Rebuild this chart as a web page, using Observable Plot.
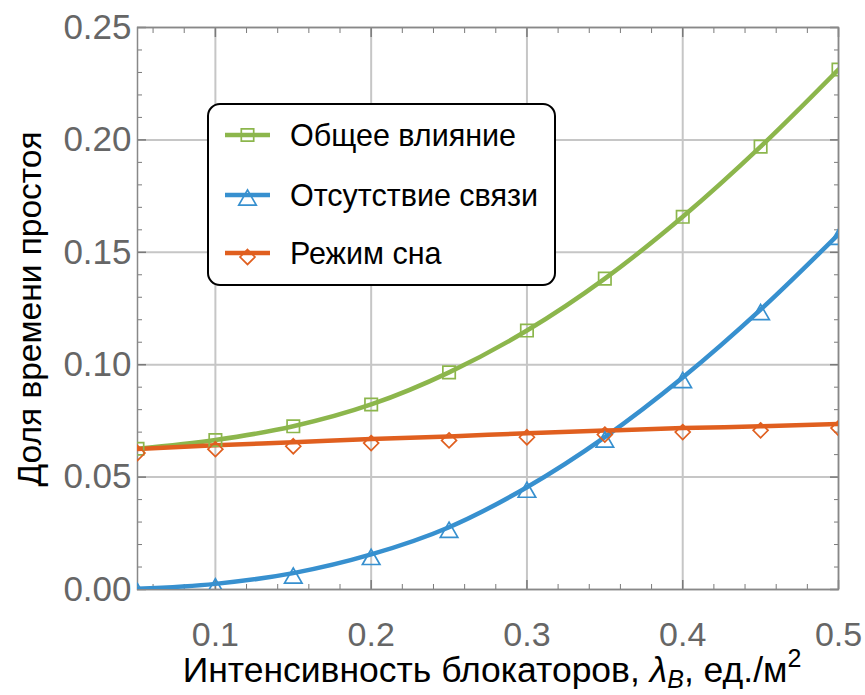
<!DOCTYPE html>
<html><head><meta charset="utf-8">
<script src="https://cdn.jsdelivr.net/npm/d3@7"></script>
<script src="https://cdn.jsdelivr.net/npm/@observablehq/plot@0.6"></script>
<style>body{margin:0;background:#fff}</style>
</head><body><div id="chart"></div>
<script>
// ---- data ----
const lambdaB = [0.05, 0.10, 0.15, 0.20, 0.25, 0.30, 0.35, 0.40, 0.45, 0.50];
const totalImpact = [0.0626, 0.0665, 0.0726, 0.0823, 0.0966, 0.1152, 0.1383, 0.1658, 0.1970, 0.2313];
const noLink = [0.0003, 0.0025, 0.0073, 0.0156, 0.0277, 0.0455, 0.0678, 0.0943, 0.1245, 0.1580];
const sleepMode = [0.0625, 0.0642, 0.0655, 0.0669, 0.0681, 0.0695, 0.0707, 0.0718, 0.0726, 0.0736];
const seriesNames = ["Общее влияние", "Отсутствие связи", "Режим сна"];
const seriesColors = ["#8cb64c", "#3790cf", "#e05f1f"];
const seriesSymbols = ["square", "triangle", "diamond2"];
const xTicks = [0.1, 0.2, 0.3, 0.4, 0.5];
const yTicks = [0.00, 0.05, 0.10, 0.15, 0.20, 0.25];
const xTitle = "Интенсивность блокаторов, ";
const yTitle = "Доля времени простоя";

const seriesValues = [totalImpact, noLink, sleepMode];
const rows = [];
seriesNames.forEach((name, i) => lambdaB.forEach((x, j) => rows.push({x, y: seriesValues[i][j], series: name})));

const xMinor = d3.range(0.06, 0.5001, 0.02).map(v => +v.toFixed(2)).filter(v => !xTicks.some(t => Math.abs(t - v) < 1e-9));
const yMinor = d3.range(0.01, 0.2501, 0.01).map(v => +v.toFixed(2)).filter(v => !yTicks.some(t => Math.abs(t - v) < 1e-9));

const tickColor = "#7a7a7a";
const markerR = [7, 6.5, 6.7];
const markerDy = [0, 5, 4];

const plot = Plot.plot({
  width: 865, height: 695,
  marginLeft: 137, marginRight: 27, marginTop: 27, marginBottom: 106,
  x: {domain: [0.05, 0.5]},
  y: {domain: [0, 0.25]},
  color: {domain: seriesNames, range: seriesColors},
  symbol: {domain: seriesNames, range: seriesSymbols},
  style: {fontFamily: "'Liberation Sans', Arial, sans-serif", background: "white", overflow: "visible"},
  marks: [
    Plot.gridX(xTicks, {stroke: "#c6c6c6", strokeOpacity: 1, strokeWidth: 2}),
    Plot.gridY(yTicks, {stroke: "#c6c6c6", strokeOpacity: 1, strokeWidth: 2}),
    Plot.axisX(xMinor, {anchor: "bottom", tickSize: -5, text: null, label: null, stroke: tickColor}),
    Plot.axisX(xMinor, {anchor: "top", tickSize: -5, text: null, label: null, stroke: tickColor}),
    Plot.axisX(xTicks, {anchor: "bottom", tickSize: -9, text: null, label: null, stroke: tickColor, strokeWidth: 1.5}),
    Plot.axisX(xTicks, {anchor: "top", tickSize: -9, text: null, label: null, stroke: tickColor, strokeWidth: 1.5}),
    Plot.axisY(yMinor, {anchor: "left", tickSize: -5, text: null, label: null, stroke: tickColor}),
    Plot.axisY(yMinor, {anchor: "right", tickSize: -5, text: null, label: null, stroke: tickColor}),
    Plot.axisY(yTicks, {anchor: "left", tickSize: -9, text: null, label: null, stroke: tickColor, strokeWidth: 1.5}),
    Plot.axisY(yTicks, {anchor: "right", tickSize: -9, text: null, label: null, stroke: tickColor, strokeWidth: 1.5}),
    Plot.axisX(xTicks, {anchor: "bottom", tickSize: 0, tickPadding: 32, fontSize: 34, fill: "#666", label: null, tickFormat: d => d.toFixed(1)}),
    Plot.axisY(yTicks, {anchor: "left", tickSize: 0, tickPadding: 6, fontSize: 35, fill: "#666", label: null, tickFormat: d => d.toFixed(2)}),
    Plot.frame({stroke: "#888", strokeWidth: 1.5}),
    Plot.line(rows, {x: "x", y: "y", z: "series", stroke: "series", strokeWidth: 4.5, curve: "monotone-x", clip: true}),
    ...seriesNames.map((name, i) =>
      Plot.dot(rows, {x: "x", y: "y", stroke: "series", symbol: "series", fill: "none", r: markerR[i], strokeWidth: 1.7,
        clip: true, dy: markerDy[i], filter: d => d.series === name}))
  ]
});
document.getElementById("chart").appendChild(plot);

const svg = d3.select(plot);
const font = "'Liberation Sans', Arial, sans-serif";

// x title
const xt = svg.append("text").attr("x", 492).attr("y", 682).attr("text-anchor", "middle")
  .attr("font-size", 35.5).attr("font-family", font).attr("fill", "#000");
xt.append("tspan").text(xTitle);
xt.append("tspan").attr("font-style", "italic").text("λ");
xt.append("tspan").attr("font-style", "italic").attr("font-size", 25).attr("dy", 6).text("B");
xt.append("tspan").attr("dy", -6).text(", ед./м");
xt.append("tspan").attr("font-size", 25).attr("dy", -15).text("2");

// y title
svg.append("text").attr("transform", "translate(29,309) rotate(-90)").attr("text-anchor", "middle")
  .attr("dominant-baseline", "central").attr("font-size", 33.5).attr("font-family", font).attr("fill", "#000").text(yTitle);

// legend
const lg = svg.append("g").attr("text-anchor", "start");
lg.append("rect").attr("x", 208).attr("y", 104).attr("width", 347).attr("height", 181).attr("rx", 12)
  .attr("fill", "white").attr("stroke", "#000").attr("stroke-width", 2);
const d3Sym = {square: d3.symbolSquare, triangle: d3.symbolTriangle, diamond2: d3.symbolDiamond2};
const rowY = [135, 195, 253];
seriesNames.forEach((name, i) => {
  const y = rowY[i];
  lg.append("line").attr("x1", 225).attr("x2", 270).attr("y1", y).attr("y2", y)
    .attr("stroke", seriesColors[i]).attr("stroke-width", 4.5);
  lg.append("path").attr("d", d3.symbol(d3Sym[seriesSymbols[i]], Math.PI * markerR[i] ** 2)())
    .attr("transform", `translate(247.5,${y + markerDy[i]})`).attr("fill", "white").attr("fill-opacity", 0)
    .attr("stroke", seriesColors[i]).attr("stroke-width", 1.7);
  lg.append("text").attr("x", 290).attr("y", y).attr("text-anchor", "start").attr("dominant-baseline", "central")
    .attr("font-size", 30.5).attr("font-family", font).attr("fill", "#000").text(name);
});
</script>
</body></html>
